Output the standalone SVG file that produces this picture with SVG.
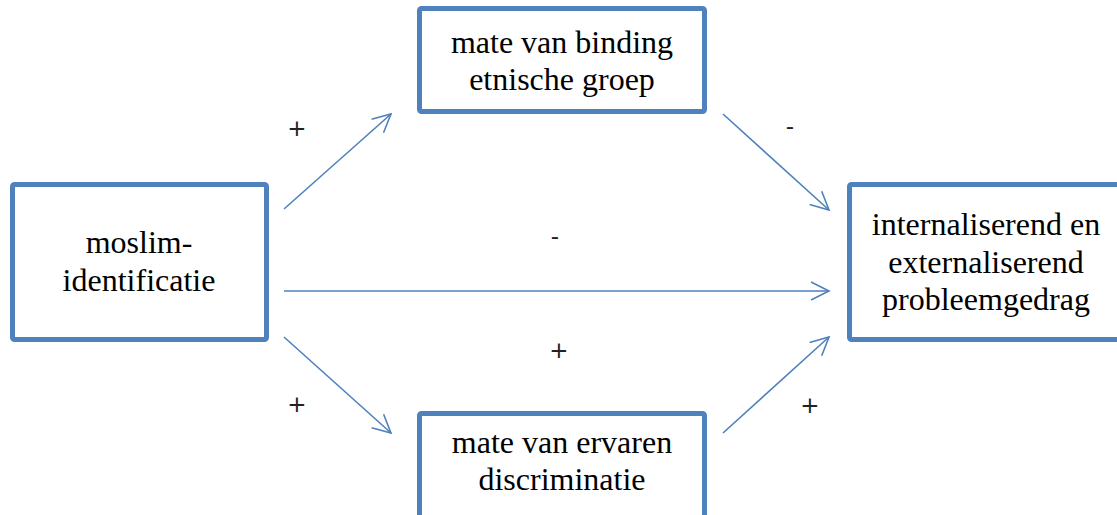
<svg xmlns="http://www.w3.org/2000/svg" width="1117" height="515" viewBox="0 0 1117 515">
<style>
.box{fill:#fff;stroke:#4F81BD;stroke-width:5}
.t{font-family:'Liberation Serif','Times New Roman',serif;font-size:32px;fill:#000;text-anchor:middle}
.c{stroke:#4F81BD;stroke-width:1.6;fill:none;marker-end:url(#ah)}
.l{font-family:'DejaVu Sans',sans-serif;font-size:23px;fill:#222;text-anchor:middle}
</style>
<defs>
<marker id="ah" markerUnits="userSpaceOnUse" viewBox="-20 -11 22 22" refX="0" refY="0" markerWidth="22" markerHeight="22" orient="auto">
<path d="M-18,-9 L0,0 L-18,9" fill="none" stroke="#4F81BD" stroke-width="1.6"/>
</marker>
</defs>
<g id="connectors">
<line class="c" x1="284" y1="209" x2="391" y2="114"/>
<line class="c" x1="284" y1="291" x2="829" y2="291"/>
<line class="c" x1="284" y1="337" x2="391" y2="433"/>
<line class="c" x1="723" y1="114" x2="829" y2="210"/>
<line class="c" x1="723" y1="433" x2="829" y2="337"/>
</g>
<g id="labels">
<text class="l" x="297" y="136">+</text>
<text class="l" x="297" y="412">+</text>
<text class="l" x="559" y="358">+</text>
<text class="l" x="810" y="413">+</text>
<text class="l" x="790" y="134">-</text>
<text class="l" x="555" y="244">-</text>
</g>
<g id="moslim">
<rect class="box" x="12.5" y="184.5" width="254" height="155" rx="2"/>
<text class="t" x="139" y="253">moslim-</text>
<text class="t" x="139" y="291">identificatie</text>
</g>
<g id="binding">
<rect class="box" x="419.5" y="8.5" width="285" height="103" rx="2"/>
<text class="t" x="562" y="53">mate van binding</text>
<text class="t" x="562" y="90">etnische groep</text>
</g>
<g id="probleem">
<rect class="box" x="849.5" y="184.5" width="274" height="155" rx="2"/>
<text class="t" x="986" y="235">internaliserend en</text>
<text class="t" x="986" y="273">externaliserend</text>
<text class="t" x="986" y="310">probleemgedrag</text>
</g>
<g id="discriminatie">
<rect class="box" x="419.5" y="413.5" width="285" height="110" rx="2"/>
<text class="t" x="562" y="453">mate van ervaren</text>
<text class="t" x="562" y="490">discriminatie</text>
</g>
</svg>
